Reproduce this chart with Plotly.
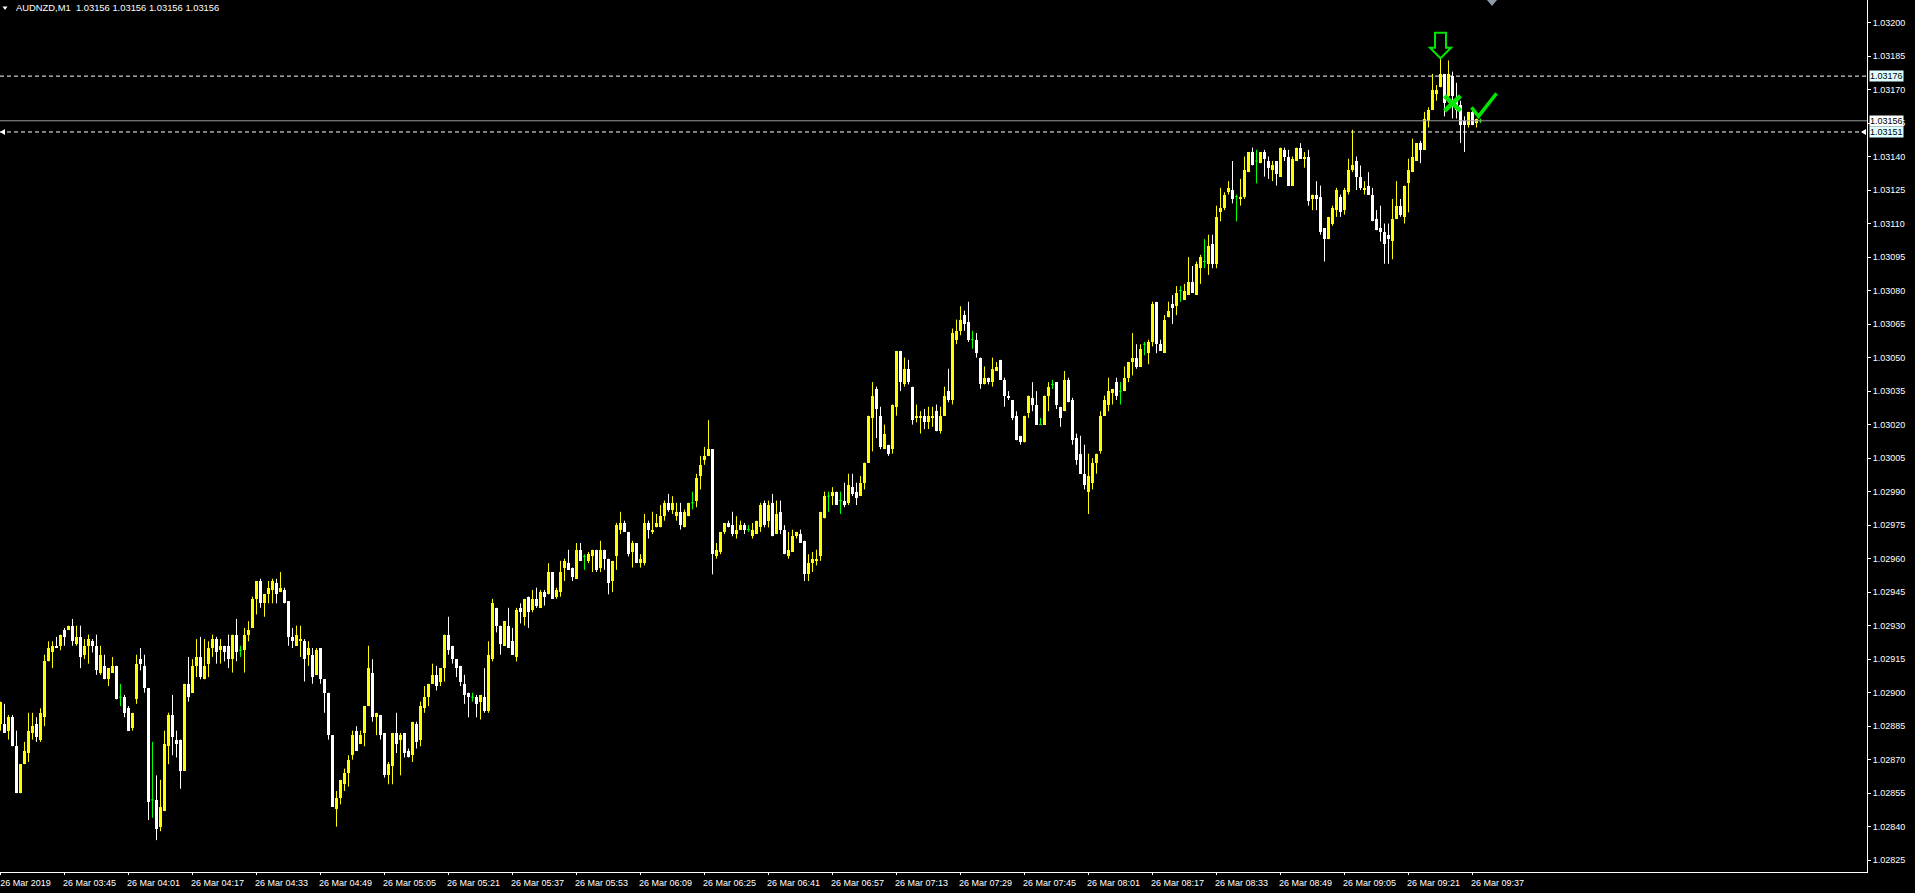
import plotly.graph_objects as go

# ---------------- data (prices in points above BASE, 1 point = 0.00001) ----------------
SYMBOL_TITLE = "AUDNZD,M1\u00a0\u00a01.03156 1.03156 1.03156 1.03156"
BASE = 1.02800
POINT = 0.00001

OPEN_PTS = [86, 86, 83, 89, 76, 55, 68, 73, 82, 86, 79, 89, 114, 118, 121, 121, 128, 128, 130, 122,
            125, 117, 121, 123, 121, 109, 112, 106, 109, 112, 98, 98, 93, 84, 97, 115, 112, 102, 52, 52,
            40, 47, 76, 90, 79, 79, 65, 104, 100, 112, 116, 106, 113, 120, 124, 119, 121, 121, 115, 126,
            119, 119, 126, 129, 142, 150, 140, 144, 146, 149, 145, 146, 141, 125, 121, 123, 123, 117, 117, 108,
            120, 106, 100, 81, 48, 53, 59, 64, 72, 83, 77, 82, 94, 109, 89, 90, 82, 63, 67, 82,
            79, 82, 74, 72, 86, 79, 93, 98, 104, 108, 105, 111, 126, 121, 115, 112, 104, 100, 98, 98,
            96, 98, 92, 115, 138, 130, 121, 130, 123, 116, 138, 134, 143, 137, 142, 138, 145, 144, 154, 143,
            145, 156, 158, 156, 151, 164, 161, 159, 161, 164, 156, 164, 160, 150, 161, 173, 176, 172, 163, 167,
            158, 158, 176, 172, 174, 174, 179, 185, 182, 179, 181, 174, 179, 185, 186, 197, 204, 206, 209, 161,
            163, 172, 176, 175, 171, 173, 175, 173, 170, 171, 174, 185, 177, 185, 171, 181, 173, 161, 163, 170,
            171, 168, 153, 158, 159, 161, 178, 188, 188, 190, 186, 186, 185, 192, 190, 188, 194, 203, 223, 236,
            224, 209, 211, 209, 228, 253, 238, 245, 237, 223, 223, 224, 221, 223, 226, 217, 224, 235, 231, 258,
            262, 269, 266, 258, 258, 250, 238, 241, 239, 244, 249, 240, 233, 231, 224, 215, 212, 225, 232, 229,
            220, 220, 233, 238, 239, 228, 226, 240, 231, 214, 207, 198, 190, 194, 203, 208, 224, 229, 234, 239,
            235, 235, 241, 248, 250, 246, 256, 252, 257, 275, 256, 252, 268, 274, 273, 280, 276, 278, 284, 278,
            290, 293, 292, 301, 292, 315, 317, 324, 325, 322, 321, 322, 333, 342, 338, 337, 342, 338, 334, 338,
            331, 343, 340, 327, 338, 344, 339, 340, 321, 323, 322, 308, 303, 310, 316, 322, 316, 324, 334, 338,
            331, 325, 327, 323, 312, 308, 306, 305, 302, 312, 318, 313, 328, 333, 338, 346, 343, 356, 361, 368,
            371, 377, 367, 376, 366, 363, 356, 354, 360, 355, 356]
HIGH_PTS = [96, 95, 90, 90, 83, 68, 78, 91, 91, 89, 93, 117, 123, 123, 125, 126, 129, 130, 133, 130,
            130, 124, 126, 124, 126, 121, 117, 111, 116, 112, 104, 99, 94, 91, 117, 120, 117, 102, 78, 63,
            61, 83, 91, 99, 83, 79, 104, 116, 115, 124, 125, 124, 123, 126, 125, 124, 121, 126, 126, 133,
            121, 129, 132, 143, 150, 151, 144, 150, 151, 151, 154, 147, 141, 129, 130, 130, 124, 123, 120, 120,
            120, 106, 100, 81, 56, 61, 66, 72, 83, 85, 83, 94, 121, 115, 91, 90, 82, 69, 82, 91,
            82, 82, 75, 87, 87, 96, 103, 104, 113, 112, 111, 126, 134, 121, 115, 112, 108, 100, 100, 99,
            99, 111, 123, 142, 138, 130, 132, 138, 129, 138, 140, 142, 143, 146, 147, 146, 146, 158, 154, 147,
            159, 160, 164, 156, 167, 167, 162, 163, 164, 164, 168, 164, 160, 159, 176, 181, 177, 172, 168, 167,
            162, 180, 177, 181, 180, 184, 186, 189, 188, 185, 185, 182, 185, 190, 198, 206, 210, 222, 209, 167,
            172, 176, 177, 181, 179, 177, 176, 175, 176, 177, 185, 186, 186, 189, 186, 186, 175, 172, 173, 172,
            173, 168, 162, 163, 164, 181, 190, 190, 192, 190, 190, 194, 198, 198, 194, 197, 203, 224, 239, 237,
            228, 220, 211, 229, 253, 253, 250, 249, 237, 229, 226, 227, 228, 228, 229, 228, 237, 245, 263, 267,
            273, 271, 275, 262, 261, 250, 246, 241, 250, 248, 249, 241, 235, 231, 226, 215, 224, 233, 239, 235,
            223, 233, 239, 240, 239, 228, 244, 241, 232, 216, 215, 211, 207, 205, 207, 226, 233, 241, 236, 241,
            239, 246, 248, 261, 256, 256, 257, 258, 275, 275, 258, 269, 275, 278, 282, 282, 283, 295, 291, 293,
            296, 303, 305, 305, 318, 326, 324, 329, 338, 323, 330, 340, 342, 344, 343, 342, 343, 340, 338, 338,
            344, 344, 343, 340, 344, 346, 342, 343, 323, 329, 327, 308, 313, 318, 326, 323, 326, 339, 352, 340,
            336, 329, 333, 326, 316, 318, 310, 310, 321, 329, 321, 327, 339, 348, 346, 347, 360, 362, 377, 372,
            384, 377, 383, 378, 373, 365, 358, 360, 361, 357, 357]
LOW_PTS = [83, 82, 79, 76, 55, 55, 68, 69, 79, 78, 78, 85, 114, 111, 120, 119, 121, 128, 121, 121,
           111, 115, 113, 118, 108, 108, 106, 103, 109, 97, 94, 89, 83, 83, 95, 110, 100, 43, 44, 34,
           38, 47, 68, 72, 71, 57, 65, 96, 100, 107, 106, 106, 107, 116, 113, 113, 114, 111, 109, 114,
           116, 109, 123, 129, 135, 138, 134, 140, 140, 140, 145, 140, 121, 120, 121, 116, 105, 112, 104, 108,
           104, 91, 79, 49, 40, 50, 56, 58, 70, 74, 77, 76, 94, 87, 81, 79, 62, 59, 59, 73,
           63, 71, 71, 69, 75, 76, 91, 94, 104, 101, 103, 105, 117, 113, 107, 103, 95, 89, 96, 89,
           88, 91, 91, 114, 127, 117, 121, 120, 117, 114, 131, 130, 129, 136, 138, 138, 139, 144, 142, 142,
           143, 150, 155, 150, 151, 159, 155, 158, 154, 154, 154, 155, 144, 145, 155, 171, 172, 161, 156, 158,
           156, 157, 169, 171, 174, 174, 177, 181, 180, 177, 173, 174, 179, 182, 183, 191, 202, 206, 153, 160,
           162, 171, 174, 170, 169, 173, 171, 172, 169, 171, 172, 174, 174, 170, 171, 171, 162, 160, 163, 169,
           167, 150, 150, 154, 157, 159, 178, 181, 184, 184, 180, 183, 184, 188, 184, 188, 191, 203, 208, 214,
           209, 209, 206, 207, 224, 235, 237, 238, 220, 221, 216, 218, 218, 219, 217, 216, 224, 230, 229, 256,
           260, 262, 257, 254, 250, 236, 238, 238, 237, 244, 240, 228, 231, 222, 213, 211, 212, 223, 226, 220,
           220, 220, 226, 236, 227, 219, 226, 230, 211, 202, 198, 191, 180, 191, 198, 207, 224, 226, 229, 231,
           229, 235, 239, 242, 245, 246, 251, 247, 255, 252, 253, 252, 268, 265, 269, 275, 276, 278, 279, 278,
           283, 290, 287, 290, 290, 311, 316, 323, 319, 311, 318, 321, 333, 336, 328, 337, 331, 330, 329, 327,
           331, 338, 327, 327, 338, 339, 335, 318, 316, 316, 305, 293, 303, 309, 313, 313, 314, 323, 333, 325,
           325, 323, 323, 311, 307, 302, 292, 292, 294, 312, 313, 310, 315, 333, 338, 337, 343, 353, 361, 365,
           371, 358, 364, 357, 357, 346, 342, 353, 354, 353, 355]
CLOSE_PTS = [96, 82, 89, 76, 55, 68, 74, 83, 85, 80, 91, 114, 120, 121, 120, 126, 125, 130, 123, 125,
             116, 121, 124, 121, 110, 117, 106, 111, 112, 97, 98, 91, 83, 91, 113, 113, 102, 51, 52, 39,
             49, 77, 90, 80, 77, 65, 104, 98, 112, 116, 107, 112, 120, 124, 118, 121, 118, 115, 126, 118,
             119, 126, 128, 142, 150, 140, 144, 147, 150, 144, 147, 140, 125, 123, 126, 124, 115, 120, 107, 119,
             106, 100, 81, 49, 53, 61, 64, 70, 81, 74, 81, 94, 111, 89, 91, 81, 63, 68, 82, 77,
             81, 73, 71, 87, 78, 94, 98, 104, 108, 103, 111, 126, 119, 115, 111, 105, 99, 98, 98, 95,
             99, 92, 117, 140, 130, 122, 132, 120, 117, 137, 136, 142, 136, 142, 139, 145, 143, 154, 142, 146,
             154, 159, 155, 152, 164, 159, 161, 162, 164, 155, 164, 160, 149, 159, 175, 176, 172, 162, 167, 158,
             160, 176, 173, 173, 176, 179, 185, 182, 185, 181, 175, 181, 185, 185, 196, 202, 206, 209, 162, 164,
             172, 176, 174, 171, 173, 175, 173, 173, 173, 177, 184, 175, 184, 170, 180, 173, 162, 164, 170, 172,
             167, 153, 158, 160, 160, 181, 188, 188, 190, 184, 186, 184, 193, 189, 187, 194, 203, 224, 233, 227,
             210, 216, 207, 229, 253, 239, 245, 239, 222, 224, 224, 221, 224, 224, 217, 224, 233, 231, 261, 262,
             267, 265, 258, 258, 252, 238, 241, 239, 245, 246, 240, 233, 232, 223, 213, 212, 224, 233, 229, 220,
             220, 233, 237, 238, 229, 223, 240, 230, 213, 204, 198, 193, 197, 203, 207, 224, 231, 235, 236, 233,
             235, 241, 248, 250, 246, 254, 256, 257, 274, 256, 253, 267, 271, 272, 279, 280, 280, 284, 279, 292,
             295, 293, 300, 292, 313, 317, 323, 326, 321, 322, 322, 334, 342, 336, 338, 342, 339, 335, 336, 332,
             344, 340, 327, 339, 344, 339, 340, 320, 323, 321, 306, 303, 313, 317, 325, 315, 325, 334, 336, 331,
             326, 326, 323, 311, 307, 306, 301, 303, 312, 318, 314, 327, 334, 340, 346, 343, 357, 361, 370, 370,
             377, 364, 377, 367, 361, 354, 354, 360, 354, 357, 356]

TIME_LABELS = ["26 Mar 2019", "26 Mar 03:45", "26 Mar 04:01", "26 Mar 04:17", "26 Mar 04:33",
               "26 Mar 04:49", "26 Mar 05:05", "26 Mar 05:21", "26 Mar 05:37", "26 Mar 05:53",
               "26 Mar 06:09", "26 Mar 06:25", "26 Mar 06:41", "26 Mar 06:57", "26 Mar 07:13",
               "26 Mar 07:29", "26 Mar 07:45", "26 Mar 08:01", "26 Mar 08:17", "26 Mar 08:33",
               "26 Mar 08:49", "26 Mar 09:05", "26 Mar 09:21", "26 Mar 09:37"]
BARS_PER_LABEL = 16

Y_TICK_FIRST = 1.02825
Y_TICK_STEP = 0.00015
Y_RANGE = [1.0281974, 1.0321007]
X_RANGE = [-0.125, 466.625]

LEVEL_UPPER = 1.03176   # dashed
BID_PRICE = 1.03156     # solid grey bid line
LEVEL_LOWER = 1.03151   # dashed

ARROW_BAR = 360         # down arrow sits on this bar's high
STOP_MARK = (363, 1.03164)
CHECK_MARK = (369, 1.03158)

# ---------------- styling ----------------
FONT = "Liberation Sans, Arial, DejaVu Sans, sans-serif"
YELLOW = "#FFFF00"
WHITE = "#FFFFFF"
GREEN = "#00FF00"
SIGNAL_GREEN = "#00E600"

o = [BASE + v * POINT for v in OPEN_PTS]
h = [BASE + v * POINT for v in HIGH_PTS]
l = [BASE + v * POINT for v in LOW_PTS]
c = [BASE + v * POINT for v in CLOSE_PTS]
n = len(c)

up = [i for i in range(n) if CLOSE_PTS[i] > OPEN_PTS[i]]
dn = [i for i in range(n) if CLOSE_PTS[i] < OPEN_PTS[i]]
flat = [i for i in range(n) if CLOSE_PTS[i] == OPEN_PTS[i]]

fig = go.Figure()


def wicks(ids):
    xs, ys = [], []
    for i in ids:
        xs += [i, i, None]
        ys += [l[i], h[i], None]
    return xs, ys


for ids, col in ((up, YELLOW), (dn, WHITE), (flat, GREEN)):
    xs, ys = wicks(ids)
    fig.add_trace(go.Scatter(x=xs, y=ys, mode="lines", line=dict(color=col, width=1),
                             hoverinfo="skip", connectgaps=False))

fig.add_trace(go.Bar(x=up, y=[c[i] - o[i] for i in up], base=[o[i] for i in up], width=0.75,
                     marker=dict(color=YELLOW, line=dict(width=0)), hoverinfo="skip"))
fig.add_trace(go.Bar(x=dn, y=[o[i] - c[i] for i in dn], base=[c[i] for i in dn], width=0.75,
                     marker=dict(color=WHITE, line=dict(width=0)), hoverinfo="skip"))

# doji ticks
dx, dy = [], []
for i in flat:
    dx += [i - 0.375, i + 0.375, None]
    dy += [o[i], o[i], None]
fig.add_trace(go.Scatter(x=dx, y=dy, mode="lines", line=dict(color=GREEN, width=1), hoverinfo="skip"))

shapes = [
    dict(type="line", xref="paper", x0=0, x1=1, yref="y", y0=LEVEL_UPPER, y1=LEVEL_UPPER,
         line=dict(color=WHITE, width=1, dash="4px,3px"), layer="above"),
    dict(type="line", xref="paper", x0=0, x1=1, yref="y", y0=BID_PRICE, y1=BID_PRICE,
         line=dict(color="#9A9A9A", width=1), layer="above"),
    dict(type="line", xref="paper", x0=0, x1=1, yref="y", y0=LEVEL_LOWER, y1=LEVEL_LOWER,
         line=dict(color=WHITE, width=1, dash="4px,3px"), layer="above"),
    # hollow down arrow on the top bar
    dict(type="path", xref="x", yref="y", xsizemode="pixel", ysizemode="pixel",
         xanchor=ARROW_BAR, yanchor=h[ARROW_BAR],
         path="M 0,0 L -10.5,10.5 L -5.5,10.5 L -5.5,25.5 L 5.5,25.5 L 5.5,10.5 L 10.5,10.5 Z",
         line=dict(color=SIGNAL_GREEN, width=2), fillcolor="rgba(0,0,0,0)", layer="above"),
    # stop cross
    dict(type="path", xref="x", yref="y", xsizemode="pixel", ysizemode="pixel",
         xanchor=STOP_MARK[0], yanchor=STOP_MARK[1],
         path="M -8,7 L 8,-8 M -8,-8 L 8,7",
         line=dict(color=SIGNAL_GREEN, width=4.5), layer="above"),
    # check mark
    dict(type="path", xref="x", yref="y", xsizemode="pixel", ysizemode="pixel",
         xanchor=CHECK_MARK[0], yanchor=CHECK_MARK[1],
         path="M -5,9 L 2,0 L 20,23",
         line=dict(color=SIGNAL_GREEN, width=3.5), fillcolor="rgba(0,0,0,0)", layer="above"),
    # small markers at the ends of the lower dashed line
    dict(type="path", xref="paper", yref="y", xsizemode="pixel", ysizemode="pixel",
         xanchor=0, yanchor=LEVEL_LOWER, path="M 0,0 L 5,3 L 5,-3 Z",
         fillcolor=WHITE, line=dict(width=0), layer="above"),
    dict(type="path", xref="paper", yref="y", xsizemode="pixel", ysizemode="pixel",
         xanchor=1, yanchor=LEVEL_LOWER, path="M -6,0 L -1,3 L -1,-3 Z",
         fillcolor=WHITE, line=dict(width=0), layer="above"),
    # chart shift marker
    dict(type="path", xref="paper", yref="paper", xsizemode="pixel", ysizemode="pixel",
         xanchor=1492 / 1867, yanchor=1, path="M -5,0 L 5,0 L 0,-6 Z",
         fillcolor="#8C9AAA", line=dict(width=0), layer="above"),
    # title triangle
    dict(type="path", xref="paper", yref="paper", xsizemode="pixel", ysizemode="pixel",
         xanchor=0, yanchor=1, path="M 2.5,-6.5 L 7.5,-6.5 L 5,-10 Z",
         fillcolor=WHITE, line=dict(width=0), layer="above"),
]

annotations = [
    dict(xref="paper", x=0, xshift=14, xanchor="left", yref="paper", y=1, yshift=-7.5,
         yanchor="middle", text=SYMBOL_TITLE, showarrow=False,
         font=dict(family=FONT, size=9.4, color=WHITE)),
]
for price, bg in ((LEVEL_UPPER, "#E0FFFF"), (BID_PRICE, "#FFFFFF"), (LEVEL_LOWER, "#E0FFFF")):
    annotations.append(dict(xref="paper", x=1, xshift=2, xanchor="left", yref="y", y=price,
                            yanchor="middle", text=f"{price:.5f}", showarrow=False, bgcolor=bg,
                            borderpad=0, font=dict(family=FONT, size=9, color="#000000")))

fig.update_layout(
    width=1915, height=893,
    margin=dict(l=0, r=48, t=0, b=21, pad=0, autoexpand=False),
    paper_bgcolor="#000000", plot_bgcolor="#000000",
    showlegend=False, barmode="overlay", bargap=0,
    font=dict(family=FONT, size=9, color=WHITE),
    shapes=shapes, annotations=annotations,
    xaxis=dict(range=X_RANGE, tickmode="array",
               tickvals=[k * BARS_PER_LABEL for k in range(len(TIME_LABELS))],
               ticktext=TIME_LABELS, ticks="outside", ticklen=2, tickcolor=WHITE,
               showline=True, linecolor=WHITE, linewidth=1, showgrid=False, zeroline=False,
               ticklabelshift=25, tickfont=dict(family=FONT, size=9, color=WHITE),
               fixedrange=True, automargin=False),
    yaxis=dict(range=Y_RANGE, side="right", tick0=Y_TICK_FIRST, dtick=Y_TICK_STEP,
               tickformat=".5f", ticks="outside", ticklen=3, tickcolor=WHITE,
               showline=True, linecolor=WHITE, linewidth=1, showgrid=False, zeroline=False,
               tickfont=dict(family=FONT, size=9, color=WHITE), fixedrange=True,
               automargin=False),
)

fig.write_html("out.html", config={"displayModeBar": False},
               post_script="document.body.style.margin='0';document.body.style.overflow='hidden';"
                           "document.body.style.background='#000';")
